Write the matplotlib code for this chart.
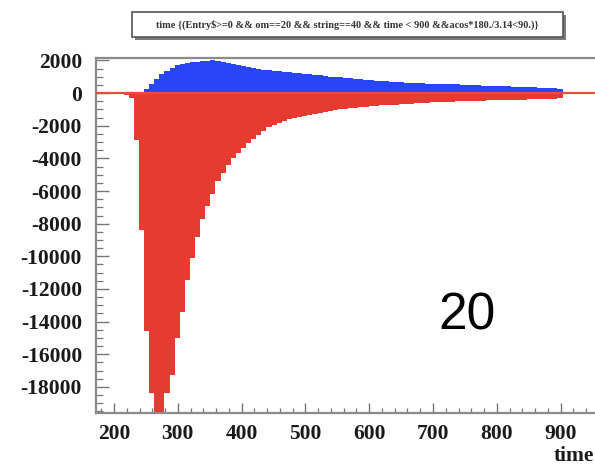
import numpy as np
import matplotlib
matplotlib.use("Agg")
import matplotlib.pyplot as plt
from matplotlib.patches import Rectangle
from matplotlib.ticker import MultipleLocator

# ---- data ----
bin_start = 215
bin_width = 8
# negative (red) histogram, magnitudes per bin
red_vals = [100, 300, 2900, 8400, 14600, 18400, 21500, 20500, 18400, 17300,
            15000, 13400, 11450, 10100, 8800, 7700, 6900, 6200, 5400, 4900,
            4400, 4000, 3700, 3350, 3050, 2800, 2550, 2300, 2100, 1950,
            1850, 1700, 1600, 1520, 1450, 1400, 1330, 1270, 1220, 1150,
            1100, 1050, 1000, 980, 940, 900, 860, 830, 800, 780,
            760, 740, 720, 700, 680, 660, 640, 620, 600, 590,
            575, 560, 545, 530, 520, 510, 500, 490, 480, 470,
            460, 450, 440, 435, 430, 420, 410, 400, 395, 385,
            380, 370, 360, 350, 340, 330]
# positive (blue) histogram per bin
blue_vals = [0, 0, 0, 50, 250, 550, 850, 1150, 1350, 1550,
             1700, 1800, 1870, 1930, 1900, 1950, 1990, 2000, 1980, 1930,
             1850, 1780, 1700, 1640, 1570, 1520, 1480, 1440, 1410, 1380,
             1340, 1310, 1290, 1250, 1220, 1190, 1160, 1120, 1090, 1050,
             1010, 990, 960, 930, 910, 880, 850, 820, 790, 760,
             740, 720, 700, 680, 660, 640, 620, 610, 595, 585,
             575, 565, 560, 550, 545, 535, 520, 505, 490, 475,
             465, 455, 445, 430, 420, 405, 395, 385, 370, 360,
             350, 335, 320, 305, 290, 270]
x_ticks = [200, 300, 400, 500, 600, 700, 800, 900]
y_ticks = [2000, 0, -2000, -4000, -6000, -8000, -10000, -12000, -14000, -16000, -18000]
title_text = "time {(Entry$>=0 && om==20 && string==40 && time < 900 &&acos*180./3.14<90.)}"
xlabel_text = "time"
annot_text = "20"

edges = bin_start + bin_width * np.arange(len(red_vals) + 1)
red_neg = -np.array(red_vals, dtype=float)
blue_pos = np.array(blue_vals, dtype=float)

RED = "#e63b30"
BLUE = "#2846f8"

fig = plt.figure(figsize=(5.95, 4.66), dpi=100)
ax = fig.add_axes([96/595, 1-413/466, 1.02 - 96/595, (413-58)/466])

ax.fill_between(edges, np.r_[blue_pos, blue_pos[-1]], 0, step="post",
                color=BLUE, lw=0, zorder=2)
ax.fill_between(edges, np.r_[red_neg, red_neg[-1]], 0, step="post",
                color=RED, lw=0, zorder=2)
ax.axhline(0, color="#ee4a45", lw=1.6, zorder=3)

px_per_unit = 0.638
xl = 200 - (114 - 96) / px_per_unit
ax_w_px = (1.02 - 96/595) * 595
ax.set_xlim(xl, xl + ax_w_px / px_per_unit)
ax.set_ylim(-19600, 2150)

serif = ["Liberation Serif", "DejaVu Serif"]
ax.set_xticks(x_ticks)
ax.set_yticks(y_ticks)
ax.set_xticklabels([str(v) for v in x_ticks], fontfamily=serif, fontweight="bold",
                   fontsize=15.5, color="#1a1a1a")
ax.set_yticklabels([str(v) for v in y_ticks], fontfamily=serif, fontweight="bold",
                   fontsize=15.5, color="#1a1a1a")
ax.xaxis.set_minor_locator(MultipleLocator(20))
ax.yaxis.set_minor_locator(MultipleLocator(500))
ax.tick_params(axis="x", which="major", direction="in", length=7, width=1.0,
               color="#777777", pad=8)
ax.tick_params(axis="x", which="minor", direction="in", length=3.5, width=0.9,
               color="#777777")
ax.tick_params(axis="y", which="major", direction="in", length=9.5, width=1.0,
               color="#777777", pad=10)
ax.tick_params(axis="y", which="minor", direction="in", length=5, width=0.9,
               color="#777777")
for s in ["left", "bottom", "top"]:
    ax.spines[s].set_color("#8a8a8a")
    ax.spines[s].set_linewidth(1.6)
ax.spines["right"].set_visible(False)

fig.text(594/595, 1-456/466, xlabel_text, fontfamily=serif, fontweight="bold",
         fontsize=15.5, color="#1a1a1a", ha="right", va="center")

fig.text(467/595, 1-316/466, annot_text, fontfamily=["Liberation Sans", "DejaVu Sans"],
         fontsize=37, color="black", ha="center", va="center")

# title box with shadow
bx0, bx1, by0, by1 = 132, 563, 12, 37
fig.patches.append(Rectangle((bx0/595 + 3/595, 1 - (by1 + 3)/466), (bx1-bx0)/595, (by1-by0)/466,
                             transform=fig.transFigure, facecolor="#7a7a7a", edgecolor="none", zorder=1))
fig.patches.append(Rectangle((bx0/595, 1 - by1/466), (bx1-bx0)/595, (by1-by0)/466,
                             transform=fig.transFigure, facecolor="white", edgecolor="#555555",
                             lw=1.2, zorder=2))
fig.text((bx0+bx1)/2/595, 1 - (by0+by1)/2/466, title_text, fontfamily=serif, fontweight="bold",
         fontsize=7.4, color="#333333", ha="center", va="center", zorder=3)

fig.savefig("out.png", dpi=100)
